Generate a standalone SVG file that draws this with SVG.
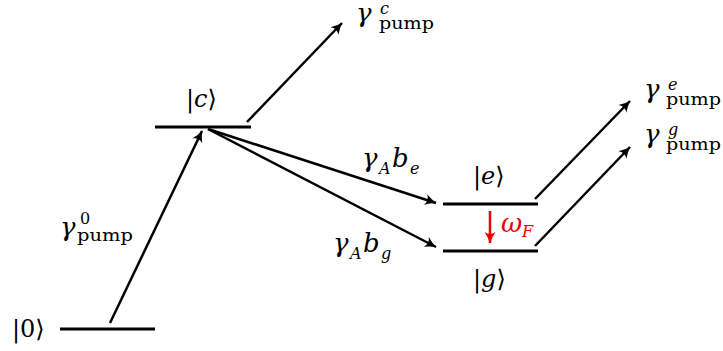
<svg xmlns="http://www.w3.org/2000/svg" width="723" height="351" viewBox="0 0 723 351">
<style>
.t{font-family:'DejaVu Serif','Liberation Serif',serif;fill:#000}
.lvl{stroke:#000;stroke-width:3;fill:none}
.ar{stroke:#000;stroke-width:2.5;fill:none;marker-end:url(#ah)}
.arr{stroke:#e00;stroke-width:2.5;fill:none;marker-end:url(#ahr)}
.k{font-size:24px}
.m{font-style:italic}
.g{font-size:26px;font-style:italic}
.s{font-size:16px}
.red{fill:#e00}
</style>
<defs>
<marker id="ah" viewBox="-12 -7 14 14" refX="0" refY="0" markerWidth="14" markerHeight="14" markerUnits="userSpaceOnUse" orient="auto">
<path d="M-11,-5.5 Q-5,-1.5 0.5,0 Q-5,1.5 -11,5.5 Q-7,0 -11,-5.5 Z" fill="#000"/>
</marker>
<marker id="ahr" viewBox="-12 -7 14 14" refX="0" refY="0" markerWidth="14" markerHeight="14" markerUnits="userSpaceOnUse" orient="auto">
<path d="M-11,-5.5 Q-5,-1.5 0.5,0 Q-5,1.5 -11,5.5 Q-7,0 -11,-5.5 Z" fill="#e00"/>
</marker>
</defs>
<g class="t">
<g id="level0">
<line class="lvl" x1="60" y1="329" x2="155" y2="329"/>
<text class="k" x="12" y="337">|0⟩</text>
</g>
<g id="levelc">
<line class="lvl" x1="155" y1="127" x2="251" y2="127"/>
<text class="k" x="186" y="107">|<tspan class="m">c</tspan>⟩</text>
</g>
<g id="levele">
<line class="lvl" x1="443" y1="204" x2="538" y2="204"/>
<text class="k" x="473" y="184">|<tspan class="m">e</tspan>⟩</text>
</g>
<g id="levelg">
<line class="lvl" x1="443" y1="251" x2="538" y2="251"/>
<text class="k" x="473" y="287">|<tspan class="m">g</tspan>⟩</text>
</g>
<g id="label-pump0">
<text class="g" x="60" y="236">γ</text>
<text class="s" x="80" y="224">0</text>
<text class="s" x="77" y="241" textLength="56" lengthAdjust="spacingAndGlyphs">pump</text>
</g>
<g id="label-pumpc">
<text class="g" x="356" y="22">γ</text>
<text class="s m" x="380" y="14">c</text>
<text class="s" x="379" y="29" textLength="55" lengthAdjust="spacingAndGlyphs">pump</text>
</g>
<g id="label-pumpe">
<text class="g" x="644" y="98">γ</text>
<text class="s m" x="668" y="90">e</text>
<text class="s" x="666" y="105" textLength="55" lengthAdjust="spacingAndGlyphs">pump</text>
</g>
<g id="label-pumpg">
<text class="g" x="644" y="143">γ</text>
<text class="s m" x="668" y="135">g</text>
<text class="s" x="666" y="150" textLength="55" lengthAdjust="spacingAndGlyphs">pump</text>
</g>
<g id="label-be">
<text class="g" x="362" y="167">γ</text>
<text class="s m" x="379" y="174">A</text>
<text class="g" x="392" y="167">b</text>
<text class="s m" x="410" y="174">e</text>
</g>
<g id="label-bg">
<text class="g" x="333" y="252">γ</text>
<text class="s m" x="350" y="259">A</text>
<text class="g" x="363" y="252">b</text>
<text class="s m" x="381" y="259">g</text>
</g>
<g id="label-omega">
<text class="g red" x="501" y="232">ω</text>
<text class="s m red" x="522" y="237">F</text>
</g>
</g>
<g id="connectors">
<line class="ar" x1="110" y1="323" x2="202" y2="131"/>
<line class="ar" x1="247" y1="122" x2="342" y2="23"/>
<line class="ar" x1="208" y1="129" x2="436" y2="203"/>
<line class="ar" x1="208" y1="129" x2="436" y2="247"/>
<line class="ar" x1="535" y1="199" x2="630" y2="101"/>
<line class="ar" x1="535" y1="246" x2="630" y2="147"/>
<line class="arr" x1="490" y1="211" x2="490" y2="243"/>
</g>
</svg>
